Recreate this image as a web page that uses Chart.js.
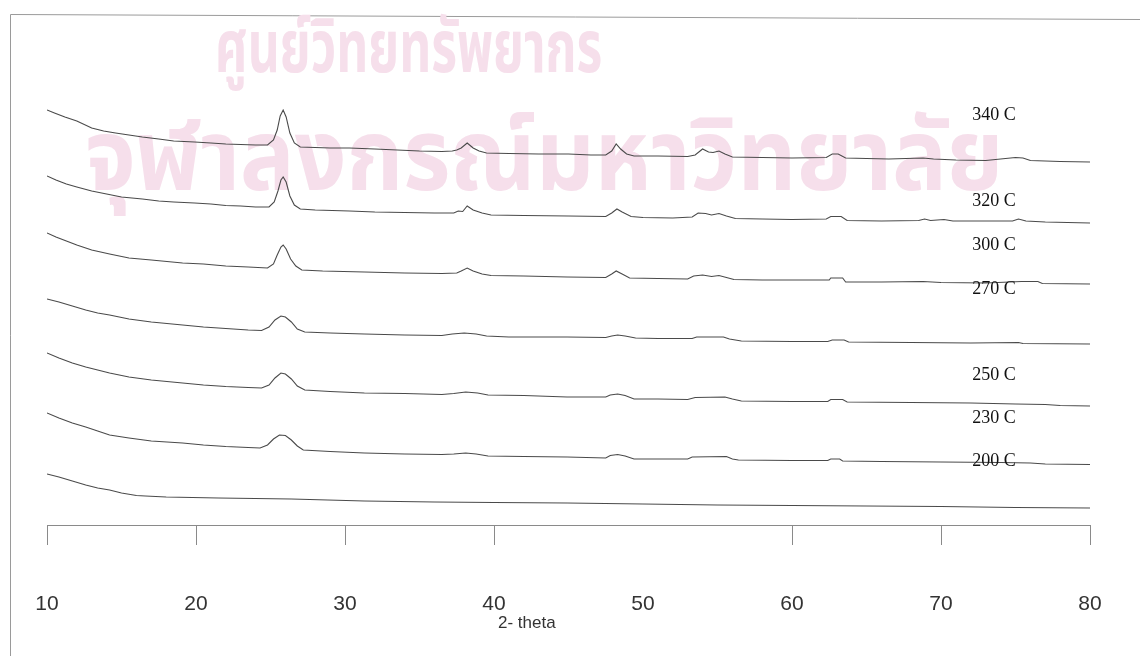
<!DOCTYPE html>
<html>
<head>
<meta charset="utf-8">
<title>XRD patterns</title>
<script src="https://cdn.jsdelivr.net/npm/chart.js@4.4.1/dist/chart.umd.min.js"></script>
<style>
  html, body { margin: 0; padding: 0; background: #fff; }
  #wrap { width: 1140px; height: 656px; position: relative; }
</style>
</head>
<body>
<div id="wrap"><canvas id="xrd" width="1140" height="656"></canvas></div>
<script>
// Stacked XRD patterns, one per calcination temperature.
// Each pattern is [2-theta, intensity (a.u., offset stacked)].
const seriesNames = ["340 C", "320 C", "300 C", "270 C", "250 C", "230 C", "200 C"];
const xTicks = [10, 20, 30, 40, 50, 60, 70, 80];
const xTitle = "2- theta";
const watermark = ["ศูนย์วิทยทรัพยากร", "จุฬาลงกรณ์มหาวิทยาลัย"];

const p340 = [
  [10.0, 415], [10.5, 412], [11.2, 408], [12.0, 404], [13.0, 397], [13.8, 394], [14.6, 392],
  [15.5, 390], [16.4, 388], [17.5, 386], [18.5, 384], [19.9, 383], [21.0, 382], [22.0, 381],
  [23.0, 380.5], [24.0, 380], [24.8, 380], [25.2, 385], [25.45, 395], [25.65, 409], [25.85, 415],
  [26.05, 408], [26.3, 392], [26.6, 382], [27.0, 378], [28.0, 377.5], [29.0, 377], [30.3, 377],
  [32.0, 376], [33.5, 375], [35.0, 374], [36.5, 373.5], [37.2, 374], [37.5, 375], [37.8, 377],
  [38.2, 382], [38.6, 377], [39.0, 374], [39.5, 372], [41.0, 371.5], [43.0, 371], [45.0, 371],
  [46.5, 370], [47.5, 370], [47.9, 374], [48.2, 381], [48.5, 376], [48.9, 371], [49.4, 369],
  [51.0, 369], [53.0, 368.5], [53.5, 370], [54.0, 376], [54.4, 373], [54.7, 372.5], [55.1, 374],
  [55.5, 371], [56.0, 368], [58.0, 367.5], [60.0, 367], [62.3, 367.5], [62.7, 371], [63.1, 371],
  [63.6, 367], [65.0, 366.5], [66.5, 366], [68.8, 367], [69.5, 366], [71.0, 365], [73.0, 364.5],
  [75.0, 367.5], [75.5, 367], [76.0, 364.5], [77.0, 364], [78.0, 363.5], [80.0, 363]
];
const p320 = [
  [10.0, 349], [10.6, 345], [11.3, 341], [12.0, 338], [13.0, 334], [14.0, 331], [15.0, 328],
  [16.4, 326], [17.5, 324], [18.5, 323], [19.9, 322], [21.0, 321], [22.0, 319.5], [23.0, 319],
  [24.0, 318], [24.9, 318], [25.25, 323], [25.5, 334], [25.7, 345], [25.85, 348], [26.05, 343],
  [26.3, 329], [26.6, 320], [27.0, 316], [28.0, 315], [30.3, 314], [32.0, 313], [34.0, 312.5],
  [36.0, 312], [37.3, 312], [37.6, 314], [37.9, 313.5], [38.2, 319], [38.6, 315], [39.2, 312],
  [39.8, 310], [42.0, 309.5], [45.0, 309], [47.5, 308.5], [47.9, 312], [48.25, 316], [48.6, 313],
  [49.2, 308.5], [50.0, 307.5], [52.0, 307], [53.3, 308], [53.7, 312], [54.2, 311.5], [54.6, 310],
  [55.1, 311.5], [55.6, 309], [56.2, 306.5], [58.0, 306], [60.0, 305.5], [62.3, 306], [62.6, 308.5],
  [63.3, 308.5], [63.7, 304.5], [66.0, 304], [68.5, 304.5], [68.9, 306], [69.3, 304.5],
  [70.2, 305.5], [70.8, 304], [74.8, 304], [75.2, 306], [75.7, 304], [77.0, 303], [80.0, 302]
];
const p300 = [
  [10.0, 292], [10.6, 288], [11.3, 284], [12.0, 280], [13.0, 275], [14.2, 271], [15.5, 267],
  [17.0, 265], [19.1, 262], [20.5, 261], [22.0, 259], [23.5, 258], [24.8, 257], [25.2, 261],
  [25.45, 270], [25.7, 278], [25.85, 280], [26.05, 276], [26.35, 266], [26.7, 259], [27.1, 255],
  [28.5, 254], [31.3, 253], [34.0, 252], [36.5, 251.5], [37.5, 252], [37.8, 254], [38.2, 257],
  [38.6, 254], [39.2, 251], [39.8, 249.5], [42.0, 249], [44.9, 248], [47.5, 247.5], [47.9, 251],
  [48.2, 254], [48.6, 251], [49.1, 247], [51.0, 246.5], [53.0, 246], [53.4, 249], [54.0, 250],
  [54.6, 248.5], [55.1, 249.5], [55.6, 247.5], [56.1, 245.5], [58.0, 245], [60.0, 245],
  [62.5, 245], [62.6, 247], [63.4, 247], [63.6, 243], [66.0, 243], [68.8, 243.5], [70.0, 242.5],
  [73.0, 242], [75.4, 243.5], [76.5, 243.5], [76.8, 241.5], [80.0, 241]
];
const p270 = [
  [10.0, 226], [10.8, 223], [11.7, 219], [12.6, 215], [13.4, 212], [14.2, 210], [15.5, 206],
  [17.0, 203], [19.1, 200], [20.5, 198], [22.0, 196.5], [23.5, 195], [24.4, 194.5], [24.9, 198],
  [25.3, 205], [25.7, 209], [26.0, 208], [26.4, 203], [26.8, 196], [27.3, 193], [29.0, 192],
  [31.3, 191], [34.0, 190], [36.5, 189.5], [37.2, 191], [38.0, 192], [38.8, 191], [39.5, 189],
  [41.0, 188], [44.9, 188], [47.5, 187.5], [47.9, 189], [48.3, 190], [48.8, 189], [49.5, 187],
  [51.0, 186.5], [53.3, 186.5], [53.6, 188], [55.4, 188], [55.8, 186], [56.6, 184], [60.0, 183.5],
  [62.4, 183.5], [62.7, 185], [63.5, 185], [63.8, 183], [68.0, 182.5], [72.0, 182], [75.2, 182.5],
  [75.5, 181.5], [80.0, 181]
];
const p250 = [
  [10.0, 172], [10.8, 167], [11.7, 162], [12.6, 158], [13.4, 155], [14.2, 152], [15.5, 148],
  [17.0, 145], [19.1, 142], [20.5, 140], [22.0, 138.5], [23.5, 137.5], [24.4, 137], [24.9, 140],
  [25.3, 147], [25.7, 152], [26.0, 151], [26.4, 146], [26.8, 139], [27.3, 135], [29.0, 133.5],
  [31.3, 132], [34.0, 131.5], [36.5, 130.5], [37.3, 131.5], [38.1, 133], [38.9, 132], [39.6, 130],
  [42.0, 129.5], [44.9, 128], [47.5, 128], [47.8, 130], [48.3, 131], [48.8, 129.5], [49.4, 126],
  [51.0, 126], [53.0, 125.5], [53.5, 127.5], [55.5, 128], [56.0, 126], [56.6, 124], [60.0, 123.5],
  [62.4, 123.5], [62.6, 125.5], [63.4, 125.5], [63.7, 123], [68.0, 122.5], [72.0, 122],
  [75.0, 121], [77.0, 120.5], [78.0, 119.5], [80.0, 119]
];
const p230 = [
  [10.0, 112], [10.8, 107], [11.7, 102], [12.6, 98], [13.4, 94], [14.2, 90], [15.5, 87],
  [17.0, 84], [19.1, 82], [20.5, 80], [22.0, 78.5], [23.5, 77.5], [24.3, 77], [24.8, 80],
  [25.2, 86], [25.6, 90], [26.0, 89.5], [26.4, 85], [26.8, 79], [27.2, 75], [29.0, 73.5],
  [31.3, 72], [34.0, 71], [36.5, 70.5], [37.3, 71], [38.1, 72], [38.8, 71], [39.6, 69],
  [42.0, 68.5], [44.9, 68], [47.5, 67], [47.8, 69.5], [48.3, 70.5], [48.8, 69], [49.4, 66],
  [51.0, 66], [53.0, 66], [53.3, 68], [55.6, 68.5], [56.0, 66], [56.4, 65], [60.0, 64.5],
  [62.4, 64.5], [62.6, 66], [63.2, 66], [63.4, 64], [66.0, 63.5], [70.0, 63], [74.0, 62.5],
  [76.0, 62], [77.0, 61], [80.0, 60.5]
];
const p200 = [
  [10.0, 51], [10.8, 48], [11.7, 44], [12.6, 40], [13.4, 37], [14.2, 35], [15.0, 32],
  [16.0, 29.5], [16.6, 29], [18.0, 28], [21.5, 27], [26.4, 26], [31.3, 24], [36.0, 23],
  [40.0, 22.5], [44.9, 22], [50.0, 21], [55.0, 20], [60.0, 19.5], [65.0, 19], [70.0, 18.5],
  [75.0, 17.5], [80.0, 17]
];
const patterns = [p340, p320, p300, p270, p250, p230, p200];

// Temperature labels sit at the right end; anchors in chart units.
const labelPlugin = {
  id: "labels",
  afterDatasetsDraw(chart, args, opts) {
    const { ctx, scales: { x, y } } = chart;
    ctx.save();
    ctx.font = opts.font;
    ctx.fillStyle = opts.color;
    ctx.textBaseline = "middle";
    ctx.textAlign = "left";
    seriesNames.forEach((name, i) => {
      const a = opts.anchors[i];
      ctx.fillText(name, x.getPixelForValue(a[0]), y.getPixelForValue(a[1]));
    });
    // axis title, sits a little left of centre in the original
    ctx.font = opts.titleFont;
    ctx.fillStyle = opts.titleColor;
    ctx.textAlign = "center";
    ctx.fillText(xTitle, x.getPixelForValue(opts.titleAt), opts.titleY);
    ctx.restore();
  }
};

// Scan border and the faint library stamp behind the plot.
const pagePlugin = {
  id: "page",
  beforeDatasetsDraw(chart, args, opts) {
    const ctx = chart.ctx;
    ctx.save();
    ctx.strokeStyle = opts.frame;
    ctx.lineWidth = 1;
    ctx.beginPath();
    ctx.moveTo(10.5, 656);
    ctx.lineTo(10.5, 14.5);
    ctx.lineTo(1140, 19.5);
    ctx.stroke();

    ctx.fillStyle = opts.stamp;
    ctx.textBaseline = "alphabetic";
    ctx.textAlign = "left";
    opts.stamps.forEach((s, i) => {
      ctx.save();
      ctx.translate(s.x, s.y);
      ctx.scale(s.sx, 1);
      ctx.font = s.font;
      ctx.fillText(watermark[i], 0, 0);
      ctx.restore();
    });
    ctx.restore();
  }
};

const ctx = document.getElementById("xrd");
new Chart(ctx, {
  type: "line",
  data: {
    datasets: patterns.map((p, i) => ({
      label: seriesNames[i],
      data: p.map(([t, v]) => ({ x: t, y: v })),
      borderColor: "#4a4a4a",
      borderWidth: 1.1,
      pointRadius: 0,
      tension: 0,
      fill: false
    }))
  },
  options: {
    responsive: false,
    animation: false,
    layout: { padding: { left: 47, right: 50, top: 15, bottom: 0 } },
    plugins: {
      legend: { display: false },
      tooltip: { enabled: false },
      labels: {
        anchors: [[72.1, 410], [72.1, 324], [72.1, 280], [72.1, 236], [72.1, 150], [72.1, 107], [72.1, 64]],
        font: "18px 'Liberation Serif', serif",
        color: "#111",
        titleFont: "17px 'Liberation Sans', Arial, sans-serif",
        titleColor: "#333",
        titleAt: 42.2,
        titleY: 623
      },
      page: {
        frame: "#9a9a9a",
        stamp: "#f6dfeb",
        stamps: [
          { x: 215, y: 72, sx: 0.69, font: "bold 72px 'Noto Sans Thai', 'Noto Sans', sans-serif" },
          { x: 85, y: 190, sx: 0.91, font: "bold 100px 'Noto Sans Thai', 'Noto Sans', sans-serif" }
        ]
      }
    },
    scales: {
      x: {
        type: "linear",
        min: 10,
        max: 80,
        afterBuildTicks: (s) => { s.ticks = xTicks.map((v) => ({ value: v })); },
        afterFit: (s) => { s.height = 131; s.paddingLeft = 0; s.paddingRight = 0; },
        ticks: {
          padding: 47,
          color: "#333",
          font: { family: "'Liberation Sans', Arial, sans-serif", size: 21 }
        },
        grid: {
          drawOnChartArea: false,
          drawTicks: true,
          tickLength: 20,
          // the 50 mark did not come out on the original scan
          color: (c) => (c.tick && c.tick.value === 50 ? "rgba(0,0,0,0)" : "#8a8a8a")
        },
        border: { color: "#8a8a8a" }
      },
      y: { display: false, min: 0, max: 510 }
    }
  },
  plugins: [pagePlugin, labelPlugin]
});
</script>
</body>
</html>
